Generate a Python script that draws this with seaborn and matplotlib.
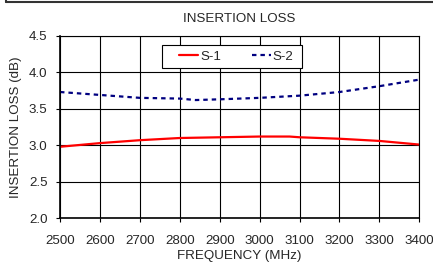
import pandas as pd
import matplotlib.pyplot as plt
import seaborn as sns
from matplotlib.lines import Line2D
from matplotlib.patches import Rectangle

# 数据
freq_s1 = [2500, 2600, 2700, 2800, 2900, 3000, 3075, 3100, 3200, 3300, 3400]
loss_s1 = [2.98, 3.03, 3.07, 3.10, 3.11, 3.12, 3.12, 3.11, 3.09, 3.06, 3.01]
freq_s2 = [2500, 2600, 2700, 2800, 2840, 2900, 3000, 3100, 3200, 3300, 3400]
loss_s2 = [3.73, 3.69, 3.65, 3.64, 3.62, 3.63, 3.65, 3.68, 3.73, 3.81, 3.90]
series_names = ['S-1', 'S-2']
x_ticks = list(range(2500, 3401, 100))
y_ticks = [2.0, 2.5, 3.0, 3.5, 4.0, 4.5]

df = pd.concat([
    pd.DataFrame({'freq': freq_s1, 'loss': loss_s1, 'series': series_names[0]}),
    pd.DataFrame({'freq': freq_s2, 'loss': loss_s2, 'series': series_names[1]}),
])

sns.set_style('white')
plt.rcParams['font.family'] = ['Liberation Sans', 'DejaVu Sans']
fs = 9.6
W, H = 433, 266

fig = plt.figure(figsize=(W / 100, H / 100), dpi=100)
ax = fig.add_axes([0.1386, 0.1793, 0.8298, 0.6861])

s2_dash = (2.0, 1.8)
sns.lineplot(data=df, x='freq', y='loss', hue='series', style='series',
             palette={'S-1': '#ff0000', 'S-2': '#000080'},
             dashes={'S-1': '', 'S-2': s2_dash},
             linewidth=1.6, ax=ax, legend=False)

ax.set_xlim(2500, 3400)
ax.set_ylim(2.0, 4.5)
ax.set_xticks(x_ticks)
ax.set_yticks(y_ticks)
ax.set_yticklabels([f'{v:.1f}' for v in y_ticks])
ax.grid(True, color='black', linewidth=0.8)
for s in ax.spines.values():
    s.set_color('black')
    s.set_linewidth(0.8)
ax.spines['left'].set_linewidth(1.2)
ax.spines['bottom'].set_linewidth(1.2)
ax.tick_params(axis='both', direction='out', length=3, width=0.8,
               color='black', labelsize=fs, bottom=True, left=True)
ax.tick_params(axis='x', pad=9)
ax.tick_params(axis='y', pad=6)

ax.set_title('INSERTION LOSS', fontsize=fs, pad=10)
ax.set_xlabel('FREQUENCY (MHz)', fontsize=fs, labelpad=2)
ax.set_ylabel('INSERTION LOSS (dB)', fontsize=fs, labelpad=5)

# 图例框 (白底黑边)
box = Rectangle((162.3 / W, 1 - 68 / H), 139.4 / W, 22.7 / H,
                transform=fig.transFigure, facecolor='white',
                edgecolor='black', linewidth=0.8, zorder=4)
ax.add_patch(box)

handles = [Line2D([], [], color='#ff0000', linewidth=1.6),
           Line2D([], [], color='#000080', linewidth=1.6, dashes=s2_dash)]
leg = ax.legend(handles, series_names, ncol=2, loc='center left',
                bbox_to_anchor=(179 / W, 1 - 56.6 / H),
                bbox_transform=fig.transFigure, frameon=False, fontsize=fs,
                handlelength=1.43, handletextpad=0.15, columnspacing=2.3,
                borderpad=0, borderaxespad=0)
leg.set_zorder(5)

# 顶部边框 (原图截取的表格线)
fig.add_artist(Line2D([6 / W, 1], [1 - 2 / H, 1 - 2 / H],
                      transform=fig.transFigure, color='#333333', linewidth=1.5))
fig.add_artist(Line2D([6 / W, 6 / W], [1, 1 - 2 / H],
                      transform=fig.transFigure, color='#333333', linewidth=1.5))

fig.savefig('out.png', dpi=100)
